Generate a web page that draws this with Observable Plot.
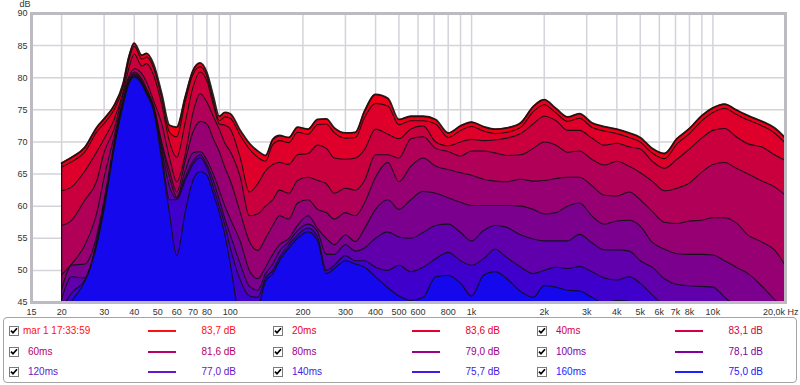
<!DOCTYPE html>
<html><head><meta charset="utf-8">
<script src="https://cdn.jsdelivr.net/npm/d3@7"></script>
<script src="https://cdn.jsdelivr.net/npm/@observablehq/plot@0.6"></script>
<style>
body{margin:0;background:#fff;}
#wrap{position:relative;width:800px;height:385px;overflow:hidden;font-family:"Liberation Sans",Arial,sans-serif;background:#fff;}
#legend{position:absolute;left:3px;top:317px;width:794px;height:66px;box-sizing:border-box;border:1px solid #a4a4a4;border-radius:4px;}
.it{position:absolute;font-size:10px;line-height:12px;white-space:nowrap;}
.cb{position:absolute;width:10px;height:10px;box-sizing:border-box;border:1px solid #7a7a7a;background:#fff;}
.sw{position:absolute;height:2px;}
</style></head><body><div id="wrap"><div id="legend"></div></div>
<script>
// ---- data ----
const freqs = [20,22,25,28,30,33,36,38,40,43,45,48,52,56,60,65,70,75,80,85,90,95,100,
  110,120,130,140,150,160,175,190,210,230,250,270,300,330,360,400,450,500,
  560,630,710,800,900,1000,1120,1250,1400,1600,1800,2000,2240,2500,2800,3150,3550,
  4000,4500,5000,5600,6300,7100,8000,9000,10000,11200,12500,14000,16000,18000,20000];

const ms0 = [66.7,67.6,69.2,72.3,73.6,75.7,79.2,83.3,85.4,83.5,83.8,82.2,77.5,72.6,72.3,77.0,81.1,82.3,80.8,77.2,74.0,74.6,74.4,
  71.8,69.8,68.6,67.9,70.4,71.0,70.7,72.3,72.0,73.5,73.6,72.2,71.4,71.5,74.8,77.4,76.8,73.5,
  74.0,74.0,73.5,71.4,72.5,73.1,72.4,72.0,72.2,73.0,75.5,76.6,75.2,73.9,74.4,73.0,72.4,
  72.0,71.4,70.7,69.0,68.2,70.5,72.1,74.1,75.3,75.9,75.0,74.1,73.2,72.2,70.6];
const ms20 = [66.1,66.9,68.5,71.6,72.9,75.0,78.6,82.7,84.9,82.9,83.2,81.6,76.8,71.5,70.8,76.2,80.5,81.7,80.2,76.4,73.3,73.9,73.7,
  71.0,68.9,67.6,67.0,69.6,70.2,69.9,71.5,71.2,72.7,72.8,71.4,70.6,70.7,73.8,76.0,75.6,72.7,
  73.3,73.3,72.8,70.7,71.8,72.4,71.7,71.3,71.5,72.3,74.7,75.8,74.5,73.2,73.7,72.3,71.7,
  71.3,70.7,70.0,68.3,67.4,69.7,71.3,73.3,74.6,75.2,74.3,73.4,72.5,71.4,69.8];
const ms40 = [62.4,63.0,65.5,68.5,70.5,73.5,77.8,81.5,83.7,81.8,82.2,80.5,75.8,70.0,67.6,73.0,78.5,80.9,79.5,75.8,72.8,72.6,72.0,
  67.5,62.2,63.5,65.5,66.5,66.8,66.5,68.0,68.2,69.5,69.0,67.5,67.3,67.5,68.8,72.0,71.2,70.5,
  72.0,72.5,70.0,69.4,70.0,70.4,70.2,70.3,70.6,71.3,72.8,74.0,73.3,71.8,71.8,70.6,69.5,
  69.8,69.2,68.9,67.0,65.9,67.3,68.9,70.6,71.8,72.1,70.8,69.7,69.2,68.0,67.1];
const ms60 = [57.0,57.8,61.0,64.0,68.4,72.0,77.5,80.2,81.4,80.6,79.3,76.5,72.8,67.5,63.8,68.0,74.5,77.5,76.2,74.0,72.0,69.8,68.5,
  64.5,58.5,58.8,60.0,61.0,62.5,62.0,64.0,64.5,64.0,63.5,62.0,62.8,62.5,64.0,68.0,68.0,67.5,
  70.5,70.8,69.0,68.5,67.8,68.6,68.6,68.3,67.9,68.0,69.0,70.0,69.5,68.4,68.6,67.3,66.4,
  67.0,66.2,65.2,63.9,62.4,62.8,63.6,65.3,66.5,66.8,65.9,65.0,63.9,63.0,61.7];
const ms80 = [49.3,51.0,54.0,59.0,64.5,70.8,76.8,79.8,80.9,79.8,78.3,75.8,69.9,65.5,62.2,67.0,71.5,73.2,72.8,70.5,68.5,66.0,64.0,
  59.0,54.5,53.1,55.0,57.0,58.5,58.0,60.5,61.0,59.5,59.0,58.0,59.0,58.5,60.5,64.5,66.8,63.8,
  66.2,67.5,66.2,65.7,65.2,64.8,64.2,63.9,63.8,64.2,63.9,64.0,64.3,64.5,64.5,63.2,61.7,
  61.6,62.2,61.0,59.2,57.5,57.3,57.7,57.8,58.2,58.2,57.4,55.5,54.4,53.2,50.7];
const ms100 = [47.0,50.8,51.0,55.5,61.0,69.8,76.4,79.4,80.6,79.5,78.0,75.5,69.5,64.5,61.4,65.5,68.3,68.5,67.2,65.0,62.5,60.0,58.0,
  54.5,50.0,48.7,50.5,52.5,54.0,55.0,57.0,58.5,56.5,55.0,54.0,55.5,54.5,56.5,59.5,61.0,59.5,
  61.0,62.3,62.0,61.3,60.6,60.1,60.1,60.1,60.1,60.0,59.5,58.8,59.0,60.0,60.5,58.5,57.2,
  57.7,57.8,56.9,54.4,53.3,52.6,52.5,52.5,52.4,51.5,50.5,49.5,47.5,45.5,44.0];
const ms120 = [45.5,49.0,48.8,54.8,60.5,69.4,76.2,79.3,80.4,79.3,77.8,75.3,68.8,63.0,61.2,64.5,67.0,68.0,66.5,64.0,61.0,58.0,55.5,
  51.0,47.5,46.9,49.5,51.0,53.0,54.5,56.2,57.2,56.0,52.5,52.5,54.0,53.0,53.5,55.0,56.0,55.2,
  55.0,55.9,57.0,57.2,55.9,54.6,56.2,57.0,56.7,55.5,54.9,54.6,54.6,54.6,55.6,54.3,53.2,
  53.2,53.0,51.5,50.5,48.7,47.8,47.6,47.5,47.4,45.8,44.3,43.0,43.0,43.0,43.0];
const ms140 = [44.0,46.5,48.5,54.3,60.0,69.2,76.0,79.2,80.2,79.1,77.6,75.2,68.0,61.0,61.0,64.0,66.5,67.6,66.0,63.0,60.0,57.0,53.5,
  48.5,46.0,45.8,48.8,50.0,52.0,54.0,55.5,56.6,55.2,50.0,50.8,52.3,51.5,51.5,50.5,50.0,50.8,
  49.8,50.5,51.8,52.8,51.5,50.8,51.8,53.3,52.0,50.5,49.5,50.0,50.5,50.3,50.6,49.8,48.8,
  48.5,49.0,48.0,46.2,44.5,43.0,43.0,43.0,43.0,43.0,43.0,43.0,43.0,43.0,43.0];
const ms160 = [43.0,45.2,48.4,54.0,59.5,69.0,75.8,79.1,80.1,79.0,77.4,75.0,67.1,58.8,52.3,59.0,64.0,65.4,64.8,62.0,59.0,55.5,51.0,
  43.0,43.0,44.0,48.3,49.5,51.5,53.5,55.0,56.0,54.6,49.5,50.3,51.5,51.0,50.5,49.0,47.3,46.0,
  45.3,45.8,49.0,49.2,48.0,46.0,49.2,49.8,48.7,46.7,45.8,47.6,47.4,46.9,46.8,45.8,44.9,
  45.3,45.2,44.0,43.0,43.0,43.0,43.0,43.0,43.0,43.0,43.0,43.0,43.0,43.0,43.0];

const sliceNames = ["mar 1 17:33:59","20ms","40ms","60ms","80ms","100ms","120ms","140ms","160ms"];
const peakLabels = ["83,7 dB","83,6 dB","83,1 dB","81,6 dB","79,0 dB","78,1 dB","77,0 dB","75,7 dB","75,0 dB"];
const fillColors = ["#ee0018","#de002a","#ca003e","#b00058","#960073","#7c008e","#6000ac","#4000cc","#1608ec"];
const legendColors = ["#ff1010","#e8002c","#d40046","#b8006a","#9c0088","#8200a2","#6418c8","#4618e4","#2020ff"];

const gridFreqs = [20,30,40,50,60,70,80,90,100,200,300,400,500,600,700,800,900,1000,2000,3000,4000,5000,6000,7000,8000,9000,10000];
const xTicks = [15,20,30,40,50,60,70,80,100,200,300,400,500,600,800,1000,2000,3000,4000,5000,6000,7000,8000,10000];
const xTickLabels = ["15","20","30","40","50","60","70","80","100","200","300","400","500","600","800","1k","2k","3k","4k","5k","6k","7k","8k","10k"];
const endLabel = "20,0k Hz";
const yTicks = [45,50,55,60,65,70,75,80,85,90];
const yUnit = "dB";

// ---- chart ----
const allSeries = [ms0, ms20, ms40, ms60, ms80, ms100, ms120, ms140, ms160];
const rows = allSeries.map(s => freqs.map((f, j) => ({f, db: s[j]})));
const xTickRows = xTicks.map((t, i) => ({t, label: xTickLabels[i]}));
const gridColor = "#d6d2da";
const axisColor = "#333";

const chart = Plot.plot({
  width: 800, height: 318,
  marginTop: 13, marginBottom: 16, marginLeft: 31, marginRight: 15,
  style: {fontFamily: "'Liberation Sans', Arial, sans-serif", fontSize: "9px", color: axisColor, background: "transparent", overflow: "visible"},
  x: {type: "log", domain: [15, 20000], axis: null},
  y: {domain: [45, 90], axis: null},
  marks: [
    Plot.ruleX(gridFreqs, {stroke: gridColor, strokeWidth: 1.5}),
    Plot.ruleY(yTicks, {stroke: gridColor, strokeWidth: 1.5}),
    ...rows.map((r, i) => Plot.areaY(r, {x: "f", y1: 40, y2: "db", fill: fillColors[i], curve: "monotone-x", clip: true})),
    ...rows.map((r, i) => Plot.lineY(r, {x: "f", y: "db", stroke: "#111", strokeWidth: i === 0 ? 1.8 : 1.1, strokeOpacity: 0.9, curve: "monotone-x", clip: true})),
    Plot.ruleX([freqs[0]], {y1: 45, y2: ms0[0], stroke: "#111", strokeWidth: 1.2}),
    Plot.frame({stroke: "#bebac2", strokeWidth: 3}),
    Plot.text(xTickRows, {x: "t", text: "label", frameAnchor: "bottom", lineAnchor: "top", textAnchor: "middle", dy: 6, fontSize: 9, fill: axisColor}),
    Plot.text([endLabel], {x: () => 20000, text: d => d, frameAnchor: "bottom", lineAnchor: "top", textAnchor: "end", dx: 13, dy: 6, fontSize: 9, fill: axisColor}),
    Plot.text(yTicks, {y: d => d, text: d => String(d), frameAnchor: "left", textAnchor: "end", lineAnchor: "middle", dx: -4, fontSize: 9, fill: axisColor}),
    Plot.text([yUnit], {text: d => d, frameAnchor: "top-left", textAnchor: "start", lineAnchor: "top", dx: -12, dy: -12.5, fontSize: 9, fill: axisColor})
  ]
});
chart.style.position = "absolute";
chart.style.left = "0px";
chart.style.top = "0px";
document.getElementById("wrap").prepend(chart);

// ---- legend ----
const wrap = document.getElementById("wrap");
const cols = [{cb: 9, label: 28, sw: 148, val: 236}, {cb: 273, label: 292, sw: 412, val: 500}, {cb: 537, label: 556, sw: 675, val: 763}];
const rowY = [331, 352, 372];
sliceNames.forEach((name, k) => {
  const c = cols[k % 3], yc = rowY[Math.floor(k / 3)], col = legendColors[k];
  const cb = document.createElement("div");
  cb.className = "cb";
  cb.style.left = c.cb + "px"; cb.style.top = (yc - 5) + "px";
  cb.innerHTML = '<svg width="8" height="8" viewBox="0 0 8 8" style="position:absolute;left:0;top:0"><path d="M1 3.6 L3 5.8 L7 1.2" stroke="#000" stroke-width="1.7" fill="none"/></svg>';
  wrap.appendChild(cb);
  const lb = document.createElement("div");
  lb.className = "it";
  lb.textContent = name;
  lb.style.color = col;
  lb.style.left = (k === 0 ? 23 : c.label) + "px";
  lb.style.top = (yc - 6) + "px";
  wrap.appendChild(lb);
  const sw = document.createElement("div");
  sw.className = "sw";
  sw.style.background = col;
  sw.style.left = c.sw + "px"; sw.style.width = "28px"; sw.style.top = (yc - 1) + "px";
  wrap.appendChild(sw);
  const vl = document.createElement("div");
  vl.className = "it";
  vl.textContent = peakLabels[k];
  vl.style.color = col;
  vl.style.right = (800 - c.val) + "px";
  vl.style.top = (yc - 6) + "px";
  wrap.appendChild(vl);
});
</script></body></html>
